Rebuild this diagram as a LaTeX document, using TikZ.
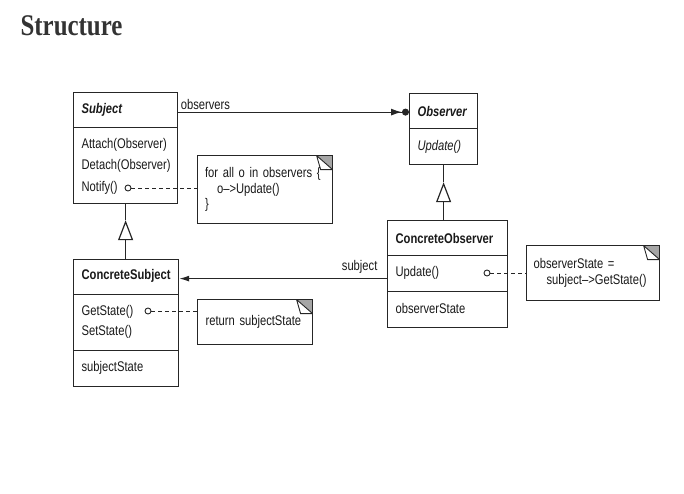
\documentclass[tikz,border=0pt]{standalone}
\usepackage{fontspec}
\setmainfont{Liberation Sans}[FakeStretch=0.8]
\newfontfamily\titlefont{Liberation Serif}[FakeStretch=0.83]
\usetikzlibrary{arrows.meta}
\newcommand\umlfont{\fontsize{14}{15.5}\selectfont\spaceskip=3.1pt plus 1.5pt minus 1pt\relax}
\begin{document}
\begin{tikzpicture}[x=1pt,y=1pt,line width=1.2pt,draw=black!85,
    every node/.style={font=\umlfont,text=black!90},
    compart/.style={draw,anchor=north west,inner sep=0pt},
    member/.style={anchor=west,inner sep=0pt},
    hook/.style={draw,circle,inner sep=0pt,minimum size=6pt,line width=0.9pt,fill=white},
    dashline/.style={dash pattern=on 4pt off 3pt,line width=0.9pt},
    inherit/.style={-{Triangle[open,length=20pt,width=15pt]}},
    note/.style={draw,anchor=north west,align=left,inner xsep=7pt,inner ysep=0pt,
      path picture={
        \fill[black!35] ([xshift=-16pt]path picture bounding box.north east)
          -- (path picture bounding box.north east)
          -- ([yshift=-14pt]path picture bounding box.north east) -- cycle;
        \draw[line width=0.9pt] ([xshift=-16pt]path picture bounding box.north east)
          -- ([xshift=-12pt,yshift=-14pt]path picture bounding box.north east)
          -- ([yshift=-14pt]path picture bounding box.north east) -- cycle;
      }}]
  \useasboundingbox (0,0) rectangle (684,-493);
  % title
  \node[anchor=base west,inner sep=0pt,font=\titlefont\fontsize{30}{32}\selectfont\bfseries,text=black!80]
    (title) at (20,-35) {Structure};

  % Subject
  \node[compart,minimum width=104pt,minimum height=35pt] (subjhead) at (73,-92) {};
  \node[compart,minimum width=104pt,minimum height=76pt] (subjops) at (73,-127) {};
  \node[member] (subjname) at (81,-110) {\textbf{\textit{Subject}}};
  \node[member] (attach) at (81,-145) {Attach(Observer)};
  \node[member] (detach) at (81,-166) {Detach(Observer)};
  \node[member] (notify) at (81,-188) {Notify()};
  \node[hook] (notifyhook) at (128,-188) {};

  % Observer
  \node[compart,minimum width=68pt,minimum height=35pt] (obshead) at (409,-93) {};
  \node[compart,minimum width=68pt,minimum height=36pt] (obsops) at (409,-128) {};
  \node[member] (obsname) at (417,-111) {\textbf{\textit{Observer}}};
  \node[member] (obsupdate) at (417,-147) {\textit{Update()}};

  % ConcreteSubject
  \node[compart,minimum width=105pt,minimum height=35pt] (csubjhead) at (73,-259) {};
  \node[compart,minimum width=105pt,minimum height=56pt] (csubjops) at (73,-294) {};
  \node[compart,minimum width=105pt,minimum height=36pt] (csubjattr) at (73,-350) {};
  \node[member] (csubjname) at (81,-276) {\textbf{ConcreteSubject}};
  \node[member] (getstate) at (81,-312) {GetState()};
  \node[member] (setstate) at (81,-332) {SetState()};
  \node[member] (subjstate) at (81,-368) {subjectState};
  \node[hook] (getstatehook) at (148,-311) {};

  % ConcreteObserver
  \node[compart,minimum width=120pt,minimum height=35pt] (cobshead) at (387,-220) {};
  \node[compart,minimum width=120pt,minimum height=36pt] (cobsops) at (387,-255) {};
  \node[compart,minimum width=120pt,minimum height=36pt] (cobsattr) at (387,-291) {};
  \node[member] (cobsname) at (395,-238) {\textbf{ConcreteObserver}};
  \node[member] (cobsupdate) at (395,-273) {Update()};
  \node[member] (obsstate) at (395,-308) {observerState};
  \node[hook] (updatehook) at (487,-273) {};

  % notes
  \node[note,text width=120pt,minimum width=135pt,minimum height=68pt] (forallnote) at (197,-155)
    {for all o in observers \{\\\hspace*{12pt}o\textendash>Update()\\\}};
  \node[note,text width=99pt,inner xsep=8pt,minimum width=115pt,minimum height=45pt] (returnnote) at (197,-299)
    {return subjectState};
  \node[note,text width=119pt,minimum width=133pt,minimum height=55pt] (statenote) at (526,-245)
    {observerState =\\\hspace*{13pt}subject\textendash>GetState()};

  % note links
  \draw[dashline] (notifyhook) -- (notifyhook -| forallnote.west);
  \draw[dashline] (getstatehook) -- (getstatehook -| returnnote.west);
  \draw[dashline] (updatehook) -- (updatehook -| statenote.west);

  % associations
  \draw[-{Latex[length=11pt,width=7pt]Circle[length=7pt]}]
    ([yshift=-2pt]subjhead.east) -- ([yshift=-2pt]subjhead.east -| obshead.west)
    node[pos=0,anchor=south west,inner xsep=2pt,inner ysep=1.5pt] (obslabel) {observers};
  \draw[-{Latex[length=10pt,width=6pt]}]
    ([yshift=-5pt]cobsops.west) -- ([yshift=-5pt]cobsops.west -| csubjhead.east)
    node[pos=0,anchor=base east,inner sep=0pt,xshift=-9pt,yshift=8pt] (subjlabel) {subject};

  % inheritance
  \coordinate (subjapex) at ([yshift=-16pt]subjops.south);
  \coordinate (obsapex) at ([yshift=-17pt]obsops.south);
  \draw (subjops.south) -- (subjapex);
  \draw[inherit] (subjapex |- csubjhead.north) -- (subjapex);
  \draw (obsops.south) -- (obsapex);
  \draw[inherit] (obsapex |- cobshead.north) -- (obsapex);
\end{tikzpicture}
\end{document}
